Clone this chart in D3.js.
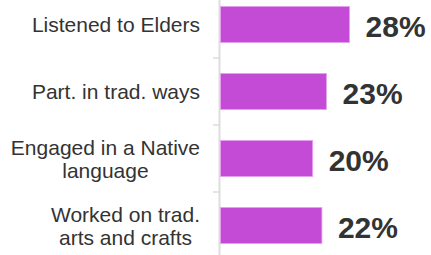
<!DOCTYPE html>
<html>
<head>
  <meta charset="utf-8">
  <script src="https://d3js.org/d3.v7.min.js"></script>
  <style>
    body { margin: 0; background: #fff; }
    svg { display: block; }
  </style>
</head>
<body>
<script>
  var categories = [
    ["Listened to Elders"],
    ["Part. in trad. ways"],
    ["Engaged in a Native", "language"],
    ["Worked on trad.", "arts and crafts"]
  ];
  var values = [28, 23, 20, 22];
  var valueLabels = ["28%", "23%", "20%", "22%"];

  var width = 431, height = 255;
  var axisX = 219.5;

  var svg = d3.select("body").append("svg")
      .attr("width", width)
      .attr("height", height);

  var keys = categories.map(function (c) { return c.join(" "); });

  var y = d3.scaleBand()
      .domain(keys)
      .range([-9, 259])
      .paddingInner(0.46)
      .paddingOuter(0.23);

  var x = d3.scaleLinear()
      .domain([0, 30])
      .range([220.5, 358.8]);

  var step = y.step();

  // vertical axis line + ticks between bands
  svg.append("line")
      .attr("x1", axisX).attr("x2", axisX)
      .attr("y1", 0).attr("y2", height)
      .attr("stroke", "#dddddd")
      .attr("stroke-width", 2);

  svg.selectAll(".tick")
    .data(keys.slice(1))
    .enter().append("line")
      .attr("x1", 213).attr("x2", axisX)
      .attr("y1", function (d) { return y(d) - step * y.paddingInner() / 2; })
      .attr("y2", function (d) { return y(d) - step * y.paddingInner() / 2; })
      .attr("stroke", "#dddddd")
      .attr("stroke-width", 1.5);

  // bars
  svg.selectAll(".bar")
    .data(values)
    .enter().append("rect")
      .attr("x", x(0))
      .attr("y", function (d, i) { return y(keys[i]); })
      .attr("width", function (d) { return x(d) - x(0); })
      .attr("height", y.bandwidth())
      .attr("fill", "#c44bd6")
      .attr("stroke", "#e6a4ef")
      .attr("stroke-width", 0.8);

  // category labels (right aligned block, lines centred on each other)
  categories.forEach(function (lines, i) {
    var cy = y(keys[i]) + y.bandwidth() / 2;
    var g = svg.append("g");
    var texts = g.selectAll("text")
      .data(lines)
      .enter().append("text")
        .attr("y", function (d, j) { return cy + 7.5 + (j - (lines.length - 1) / 2) * 23; })
        .attr("text-anchor", "middle")
        .style("font-family", "'Liberation Sans', Arial, sans-serif")
        .style("font-size", "21px")
        .style("fill", "#333")
        .text(function (d) { return d; });
    var maxW = 0;
    texts.each(function () { maxW = Math.max(maxW, this.getComputedTextLength()); });
    texts.attr("x", 200 - maxW / 2);
  });

  // value labels
  svg.selectAll(".val")
    .data(values)
    .enter().append("text")
      .attr("y", function (d, i) { return y(keys[i]) + y.bandwidth() / 2 + 12; })
      .style("font-family", "'Liberation Sans', Arial, sans-serif")
      .style("font-size", "30px")
      .style("font-weight", "bold")
      .style("fill", "#333")
      .text(function (d, i) { return valueLabels[i]; })
      .attr("x", function (d) {
        var w = this.getComputedTextLength();
        return Math.min(x(d) + 16, 427 - w);
      });
</script>
</body>
</html>
